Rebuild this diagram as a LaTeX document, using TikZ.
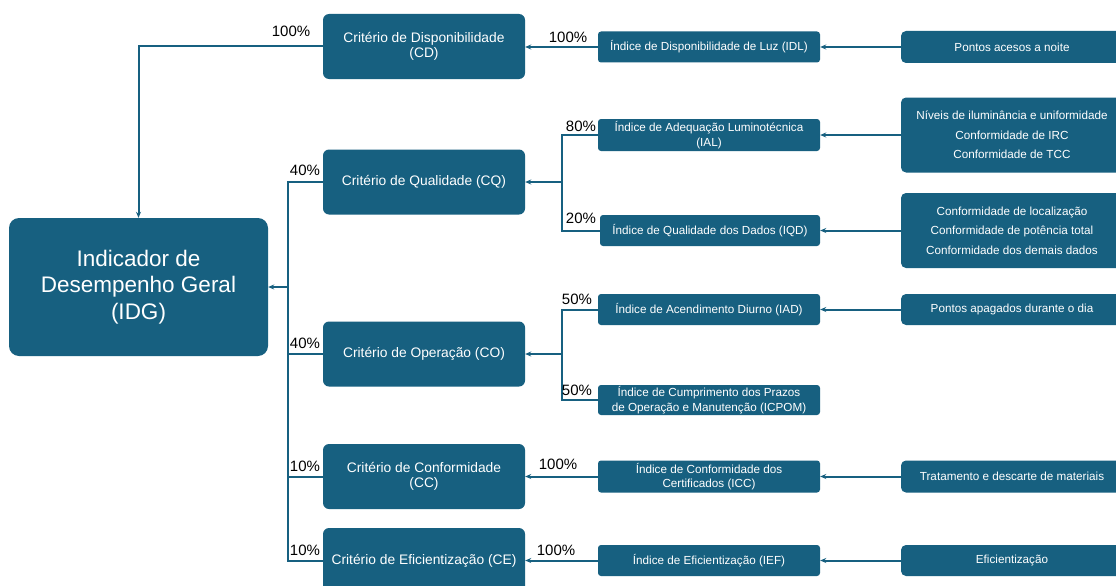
\documentclass[tikz,border=0pt]{standalone}
\usepackage{fontspec}
\setmainfont{Liberation Sans}
\usetikzlibrary{arrows.meta}
\definecolor{teal1}{RGB}{23,96,128}
\begin{document}
\begin{tikzpicture}[x=1pt,y=-1pt,
 box/.style={fill=teal1, text=white, inner sep=0pt, align=center},
 crit/.style={box, minimum width=202pt, minimum height=65pt, font=\fontsize{13.8}{15.5}\selectfont, rounded corners=6pt},
 idx/.style={box, minimum width=222pt, minimum height=31pt, font=\fontsize{11.7}{14.5}\selectfont, rounded corners=3pt},
 src/.style={box, minimum width=222pt, minimum height=32pt, font=\fontsize{11.7}{19.5}\selectfont, rounded corners=5pt},
 big/.style={box, minimum width=259pt, minimum height=138pt, font=\fontsize{22.5}{26.5}\selectfont, rounded corners=10pt},
 wire/.style={draw=teal1, line width=2pt},
 arr/.style={wire, -{Stealth[length=6pt,width=5pt]}},
 pct/.style={font=\fontsize{15}{15}\selectfont, text=black, inner sep=0pt}]
\useasboundingbox (0,0) rectangle (1116,586);
\clip (0,0) rectangle (1116,586);
\fill[white] (0,0) rectangle (1116,586);

% main node
\node[big] (IDG) at (138.5,287) {Indicador de\\Desempenho Geral\\(IDG)};

% criteria
\node[crit] (CD) at (424,46.5) {Critério de Disponibilidade\\(CD)};
\node[crit] (CQ) at (424,182) {Critério de Qualidade (CQ)};
\node[crit] (CO) at (424,354) {Critério de Operação (CO)};
\node[crit] (CC) at (424,476.5) {Critério de Conformidade\\(CC)};
\node[crit] (CE) at (424,560.5) {Critério de Eficientização (CE)};

% indices
\node[idx] (IDL) at (709,47) {Índice de Disponibilidade de Luz (IDL)};
\node[idx, minimum height=32pt] (IAL) at (709,135) {Índice de Adequação Luminotécnica\\(IAL)};
\node[idx, minimum width=220pt] (IQD) at (710,230.5) {Índice de Qualidade dos Dados (IQD)};
\node[idx] (IAD) at (709,309.5) {Índice de Acendimento Diurno (IAD)};
\node[idx, minimum height=30pt] (ICPOM) at (709,400) {Índice de Cumprimento dos Prazos\\de Operação e Manutenção (ICPOM)};
\node[idx, minimum height=32pt] (ICC) at (709,476.5) {Índice de Conformidade dos\\Certificados (ICC)};
\node[idx] (IEF) at (709,560.5) {Índice de Eficientização (IEF)};

% sources
\node[src] (PA) at (1012,47) {Pontos acesos a noite};
\node[src, minimum height=75pt] (NIV) at (1012,135) {Níveis de iluminância e uniformidade\\Conformidade de IRC\\Conformidade de TCC};
\node[src, minimum height=75pt] (CONF) at (1012,230.5) {Conformidade de localização\\Conformidade de potência total\\Conformidade dos demais dados};
\node[src, minimum height=31pt] (PAD) at (1012,309.5) {Pontos apagados durante o dia};
\node[src] (TRAT) at (1012,476.5) {Tratamento e descarte de materiais};
\node[src, minimum height=31pt] (EFI) at (1012,560.5) {Eficientização};

% bus coordinates
\coordinate (bus) at (288,287);
\coordinate (bq) at (562,182);
\coordinate (bo) at (562,354);

% source -> index arrows
\draw[arr] (PA.west) -- (PA.west -| IDL.east);
\draw[arr] (NIV.west) -- (NIV.west -| IAL.east);
\draw[arr] (CONF.west) -- (CONF.west -| IQD.east);
\draw[arr] (PAD.west) -- (PAD.west -| IAD.east);
\draw[arr] (TRAT.west) -- (TRAT.west -| ICC.east);
\draw[arr] (EFI.west) -- (EFI.west -| IEF.east);

% index -> criterion
\draw[arr] (IDL.west) -- (IDL.west -| CD.east);
\draw[wire] (IAL.west) -| (bq) |- (IQD.west);
\draw[arr] (bq) -- (bq -| CQ.east);
\draw[wire] (IAD.west) -| (bo) |- (ICPOM.west);
\draw[arr] (bo) -- (bo -| CO.east);
\draw[arr] (ICC.west) -- (ICC.west -| CC.east);
\draw[arr] (IEF.west) -- (IEF.west -| CE.east);

% criterion -> IDG
\draw[arr] (CD.west) -| (IDG.north);
\draw[wire] (CQ.west) -| (bus |- CQ.west) -- (bus |- CE.west) -- (CE.west);
\draw[wire] (CO.west) -- (CO.west -| bus);
\draw[wire] (CC.west) -- (CC.west -| bus);
\draw[arr] (bus) -- (IDG.east);

% percentages
\node[pct] (p1) at (291,31) {100\%};
\node[pct] (p2) at (568,37) {100\%};
\node[pct] (p3) at (581,126) {80\%};
\node[pct] (p4) at (581,218) {20\%};
\node[pct] (p5) at (305,170) {40\%};
\node[pct] (p6) at (305,343) {40\%};
\node[pct] (p7) at (577,299) {50\%};
\node[pct] (p8) at (577,390) {50\%};
\node[pct] (p9) at (305,466) {10\%};
\node[pct] (p10) at (305,550) {10\%};
\node[pct] (p11) at (558,464) {100\%};
\node[pct] (p12) at (556,550) {100\%};
\end{tikzpicture}
\end{document}
